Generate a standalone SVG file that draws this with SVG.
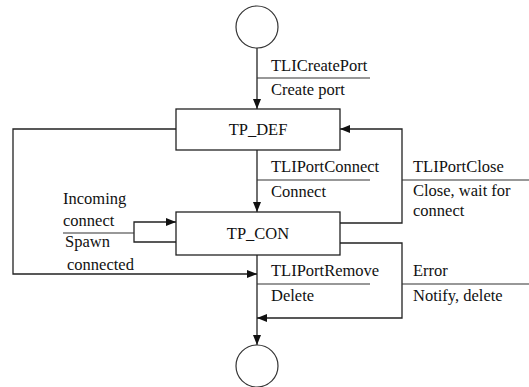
<svg xmlns="http://www.w3.org/2000/svg" width="529" height="387" viewBox="0 0 529 387">
  <defs>
    <marker id="arrow" viewBox="0 0 10 8" refX="10" refY="4" markerWidth="10" markerHeight="8" markerUnits="userSpaceOnUse" orient="auto">
      <path d="M0,0 L10,4 L0,8 Z" fill="#111"/>
    </marker>
  </defs>
  <style>
    .state { fill: #fff; stroke: #222; stroke-width: 1.3; }
    .term { fill: #fff; stroke: #333; stroke-width: 1.2; }
    .edge { fill: none; stroke: #222; stroke-width: 1.3; }
    .rule { fill: none; stroke: #333; stroke-width: 1.1; }
    text { font-family: "Liberation Serif", "DejaVu Serif", serif; font-size: 16.5px; fill: #111; }
    .name { text-anchor: middle; }
  </style>
  <rect width="529" height="387" fill="#fff"/>

  <!-- connectors -->
  <g id="connectors">
    <line class="edge" x1="257" y1="48" x2="257" y2="109" marker-end="url(#arrow)"/>
    <line class="edge" x1="257" y1="150" x2="257" y2="212" marker-end="url(#arrow)"/>
    <line class="edge" x1="257" y1="255" x2="257" y2="345" marker-end="url(#arrow)"/>
    <!-- TP_CON back to TP_DEF -->
    <polyline class="edge" points="340,223 402,223 402,129 340,129" marker-end="url(#arrow)"/>
    <!-- TP_DEF to delete -->
    <polyline class="edge" points="176,129 13,129 13,274 257,274" marker-end="url(#arrow)"/>
    <!-- incoming connect self-loop -->
    <polyline class="edge" points="176,242 134,242 134,222 176,222" marker-end="url(#arrow)"/>
    <!-- error path -->
    <polyline class="edge" points="340,243 402,243 402,318 257,318" marker-end="url(#arrow)"/>
    <!-- label rules -->
    <line class="rule" x1="257" y1="78" x2="370" y2="78"/>
    <line class="rule" x1="257" y1="180" x2="370" y2="180"/>
    <line class="rule" x1="402" y1="180" x2="529" y2="180"/>
    <line class="rule" x1="257" y1="284" x2="370" y2="284"/>
    <line class="rule" x1="402" y1="284" x2="529" y2="284"/>
    <line class="rule" x1="63" y1="233" x2="134" y2="233"/>
  </g>

  <!-- labels -->
  <g id="labels">
    <text x="271" y="71">TLICreatePort</text>
    <text x="271" y="95">Create port</text>
    <text x="271" y="172">TLIPortConnect</text>
    <text x="271" y="197">Connect</text>
    <text x="413" y="172">TLIPortClose</text>
    <text x="413" y="196">Close, wait for</text>
    <text x="413" y="216">connect</text>
    <text x="271" y="276">TLIPortRemove</text>
    <text x="271" y="301">Delete</text>
    <text x="413" y="276">Error</text>
    <text x="413" y="301">Notify, delete</text>
    <text x="63" y="204">Incoming</text>
    <text x="63" y="226">connect</text>
    <text x="65" y="247">Spawn</text>
    <text x="67" y="270">connected</text>
  </g>

  <g id="start">
    <circle class="term" cx="257" cy="27" r="21"/>
  </g>
  <g id="tp_def">
    <rect class="state" x="176" y="109" width="164" height="41"/>
    <text class="name" x="258" y="135">TP_DEF</text>
  </g>
  <g id="tp_con">
    <rect class="state" x="176" y="212" width="164" height="43"/>
    <text class="name" x="258" y="239">TP_CON</text>
  </g>
  <g id="end">
    <circle class="term" cx="257" cy="366" r="21"/>
  </g>
</svg>
